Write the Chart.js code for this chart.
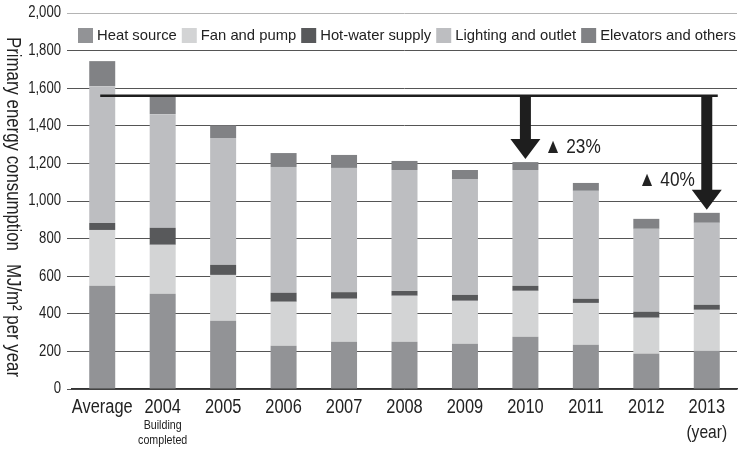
<!DOCTYPE html>
<html>
<head>
<meta charset="utf-8">
<script src="https://cdn.jsdelivr.net/npm/chart.js@4.4.1/dist/chart.umd.min.js"></script>
<style>
  html, body { margin: 0; padding: 0; background: #fff; }
  #wrap { width: 740px; height: 449px; position: relative; }
</style>
</head>
<body>
<div id="wrap"><canvas id="c" width="740" height="449"></canvas></div>
<script>
// Primary energy consumption by use, MJ/m² per year
const categories = ['Average', '2004', '2005', '2006', '2007', '2008', '2009', '2010', '2011', '2012', '2013'];
const heatSource = [549, 506, 363, 230, 251, 251, 241, 278, 235, 188, 204];
const fanAndPump = [297, 261, 244, 234, 229, 245, 228, 244, 223, 191, 217];
const hotWaterSupply = [37, 90, 53, 48, 35, 26, 32, 27, 22, 32, 27];
const lightingAndOutlet = [728, 605, 675, 669, 661, 643, 616, 616, 574, 441, 436];
const elevatorsAndOthers = [133, 98, 67, 74, 69, 48, 48, 42, 42, 53, 53];

const yTicks = [0, 200, 400, 600, 800, 1000, 1200, 1400, 1600, 1800, 2000];

// Reductions measured from the 2004 (building completed) level
const baseCategory = '2004';
const reductions = [
  { category: '2010', text: '▲ 23%' },
  { category: '2013', text: '▲ 40%' }
];
const subLabels = { '2004': ['Building', 'completed'], '2013': ['(year)'] };

const FONT = '"Liberation Sans", Arial, sans-serif';
const SQUEEZE = 0.82;   // condensed lettering for axis text
const INK = '#222';

const series = [
  { label: 'Heat source', data: heatSource, color: '#929396' },
  { label: 'Fan and pump', data: fanAndPump, color: '#d3d4d5' },
  { label: 'Hot-water supply', data: hotWaterSupply, color: '#58595b' },
  { label: 'Lighting and outlet', data: lightingAndOutlet, color: '#bdbec1' },
  { label: 'Elevators and others', data: elevatorsAndOthers, color: '#818285' }
];

const totals = categories.map((_, i) => series.reduce((s, d) => s + d.data[i], 0));

// text squeezed horizontally (along its own reading direction)
function narrowText(ctx, text, x, y, size, align, angle) {
  ctx.save();
  ctx.translate(x, y);
  if (angle) ctx.rotate(angle);
  ctx.scale(SQUEEZE, 1);
  ctx.font = size + 'px ' + FONT;
  ctx.textAlign = align;
  ctx.textBaseline = 'middle';
  ctx.fillStyle = INK;
  ctx.fillText(text, 0, 0);
  ctx.restore();
}

function drawArrow(ctx, cx, topY, tipY) {
  const headLen = 20, headHalf = 15, shaftHalf = 5.5;
  ctx.beginPath();
  ctx.moveTo(cx - shaftHalf, topY);
  ctx.lineTo(cx + shaftHalf, topY);
  ctx.lineTo(cx + shaftHalf, tipY - headLen);
  ctx.lineTo(cx + headHalf, tipY - headLen);
  ctx.lineTo(cx, tipY);
  ctx.lineTo(cx - headHalf, tipY - headLen);
  ctx.lineTo(cx - shaftHalf, tipY - headLen);
  ctx.closePath();
  ctx.fill();
}

const overlay = {
  id: 'overlay',
  afterDraw(chart) {
    const { ctx } = chart;
    const x = chart.scales.x, y = chart.scales.y;
    ctx.save();

    // legend row inside the plot, between the 2,000 and 1,800 lines
    let lx = 78;
    const ly = 28;
    ctx.font = '14.8px ' + FONT;
    ctx.textBaseline = 'middle';
    ctx.textAlign = 'left';
    chart.data.datasets.forEach(ds => {
      ctx.fillStyle = ds.backgroundColor;
      ctx.fillRect(lx, ly, 15, 15);
      lx += 19;
      ctx.fillStyle = INK;
      ctx.fillText(ds.label, lx, ly + 8);
      lx += ctx.measureText(ds.label).width + 5;
    });

    // y tick labels
    y.ticks.forEach(t => {
      narrowText(ctx, t.value.toLocaleString('en-US'), 61, y.getPixelForValue(t.value), 16, 'right');
    });

    // category labels
    categories.forEach((c, i) => {
      narrowText(ctx, c, x.getPixelForValue(i), 407, 20, 'center');
    });

    // vertical axis title, reading downward
    [['Primary energy consumption', 37], ['MJ/m² per year', 264]].forEach(([t, ty]) => {
      narrowText(ctx, t, 13, ty, 20.5, 'left', Math.PI / 2);
    });

    // small notes under category labels
    Object.entries(subLabels).forEach(([cat, lines]) => {
      const cx = x.getPixelForValue(categories.indexOf(cat));
      if (lines.length > 1) {
        lines.forEach((t, i) => narrowText(ctx, t, cx, 425 + i * 15, 13, 'center'));
      } else {
        narrowText(ctx, lines[0], cx, 433, 19, 'center');
      }
    });

    // reference level and reduction arrows
    const baseIdx = categories.indexOf(baseCategory);
    const baseY = y.getPixelForValue(totals[baseIdx]);
    const lastIdx = categories.indexOf(reductions[reductions.length - 1].category);
    ctx.strokeStyle = '#1e1e1e';
    ctx.fillStyle = '#1e1e1e';
    ctx.lineWidth = 2.5;
    ctx.beginPath();
    ctx.moveTo(x.getPixelForValue(0) - 2, baseY);
    ctx.lineTo(x.getPixelForValue(lastIdx) + 11, baseY);
    ctx.stroke();

    reductions.forEach((r, k) => {
      const idx = categories.indexOf(r.category);
      const cx = x.getPixelForValue(idx);
      const tipY = y.getPixelForValue(totals[idx]) - 3;
      ctx.fillStyle = '#1e1e1e';
      drawArrow(ctx, cx, baseY, tipY);
      if (k === 0) {
        narrowText(ctx, r.text, cx + 19, tipY - 12, 21, 'left');
      } else {
        narrowText(ctx, r.text, cx - 12, tipY - 30, 21, 'right');
      }
    });

    ctx.restore();
  }
};

new Chart(document.getElementById('c'), {
  type: 'bar',
  data: {
    labels: categories,
    datasets: series.map(s => ({
      label: s.label,
      data: s.data,
      backgroundColor: s.color,
      borderWidth: 0,
      categoryPercentage: 1,
      barPercentage: 0.43
    }))
  },
  options: {
    responsive: false,
    animation: false,
    devicePixelRatio: 1,
    layout: { padding: { top: 13, right: 3, left: 0, bottom: 0 } },
    plugins: {
      legend: { display: false },
      tooltip: { enabled: false }
    },
    scales: {
      x: {
        stacked: true,
        grid: { display: false, drawTicks: false },
        border: { display: true, color: '#333', width: 1.5 },
        ticks: {
          font: { family: FONT, size: 16 },
          color: 'rgba(0,0,0,0)',
          padding: 5,
          maxRotation: 0,
          autoSkip: false
        },
        afterFit(s) { s.height = 60; }
      },
      y: {
        stacked: true,
        min: 0,
        max: 2000,
        afterBuildTicks(s) { s.ticks = yTicks.map(v => ({ value: v })); },
        ticks: {
          font: { family: FONT, size: 14 },
          color: 'rgba(0,0,0,0)',
          padding: 4
        },
        grid: {
          color: c => (c.tick && c.tick.value === 2000 ? '#b4b4b4' : '#555'),
          lineWidth: 1,
          tickLength: 5,
          drawTicks: true
        },
        border: { display: false },
        afterFit(s) { s.width = 72; }
      }
    }
  },
  plugins: [overlay]
});
</script>
</body>
</html>
